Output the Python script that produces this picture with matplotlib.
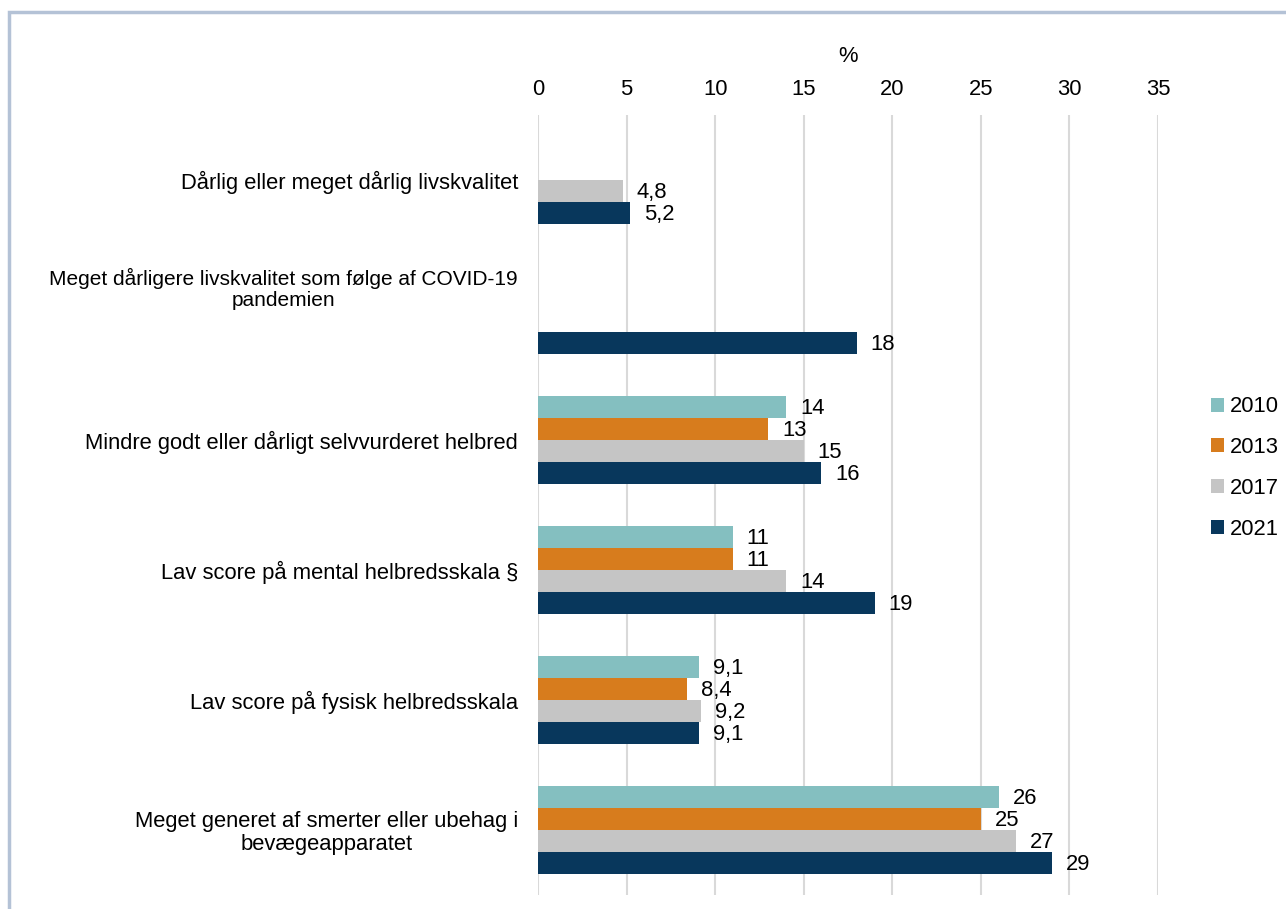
import numpy as np
import matplotlib
matplotlib.use("Agg")
import matplotlib.pyplot as plt
from matplotlib.patches import Rectangle
from matplotlib.transforms import ScaledTranslation

plt.rcParams['font.family'] = ['Liberation Sans', 'DejaVu Sans']
FS = 15.8

categories = [
    "Dårlig eller meget dårlig livskvalitet",
    "Meget dårligere livskvalitet som følge af COVID-19\npandemien",
    "Mindre godt eller dårligt selvvurderet helbred",
    "Lav score på mental helbredsskala §",
    "Lav score på fysisk helbredsskala",
    "Meget generet af smerter eller ubehag i\nbevægeapparatet",
]
years = ["2010", "2013", "2017", "2021"]
v2010 = [np.nan, np.nan, 14, 11, 9.1, 26]
v2013 = [np.nan, np.nan, 13, 11, 8.4, 25]
v2017 = [4.8, np.nan, 15, 14, 9.2, 27]
v2021 = [5.2, 18, 16, 19, 9.1, 29]
series = [v2010, v2013, v2017, v2021]
colors = ["#84BFC0", "#D77C1D", "#C5C5C5", "#08375C"]
xticks = [0, 5, 10, 15, 20, 25, 30, 35]

fig = plt.figure(figsize=(12.86, 9.09), dpi=100)
ax = fig.add_axes([538/1286, 1-895/909, (1158-538)/1286, (895-115)/909])

n = len(categories)
bh = 0.169
ypos = np.arange(n)
for i, (vals, col, yr) in enumerate(zip(series, colors, years)):
    offs = (i - 1.5) * bh
    y = ypos + offs
    vals = np.array(vals, dtype=float)
    ax.barh(y, np.nan_to_num(vals), height=bh, color=col, label=yr, zorder=3)
    for yy, v in zip(y, vals):
        if np.isnan(v):
            continue
        s = (f"{v:.1f}".replace(".", ",") if v != int(v) else f"{int(v)}")
        ax.annotate(s, (v, yy), xytext=(10, -1), textcoords="offset points",
                    va="center", ha="left", fontsize=FS, color="#000000")

ax.set_ylim(n - 0.5, -0.5)
ax.set_xlim(0, 35)
ax.set_xticks(xticks)
ax.set_xticklabels([str(t) for t in xticks], fontsize=FS)
ax.xaxis.tick_top()
ax.tick_params(axis='x', length=0, pad=11)
ax.set_yticks(ypos)
ax.set_yticklabels(categories, fontsize=FS, ha='center', multialignment='center',
                   linespacing=1.12)
ax.tick_params(axis='y', length=0, pad=0)
ax.get_yticklabels()[1].set_fontsize(15.0)
fig.canvas.draw()
r = fig.canvas.get_renderer()
for k, lab in enumerate(ax.get_yticklabels()):
    bb = lab.get_window_extent(r)
    w = bb.width
    dx = -(20 + w/2) / 100
    dy = 24/100 if k == 1 else 0
    lab.set_transform(lab.get_transform() + ScaledTranslation(dx, dy, fig.dpi_scale_trans))

for sp in ax.spines.values():
    sp.set_visible(False)
ax.grid(axis='x', color="#D9D9D9", linewidth=1.5, zorder=0)
ax.set_axisbelow(True)

fig.text(848/1286, 1-56/909, "%", ha='center', va='center', fontsize=FS)

leg = ax.legend(loc='center left', bbox_to_anchor=(1200/1286, 1-468/909),
                bbox_transform=fig.transFigure, frameon=False, fontsize=FS,
                handlelength=0.6, handleheight=0.6, handletextpad=0.25,
                labelspacing=0.9, borderpad=0)

fig.patches.append(Rectangle((9/1286, -0.1), 1.2, 1-12/909+0.1, transform=fig.transFigure,
                             fill=False, edgecolor="#B4C2D6", linewidth=2.5))

fig.savefig("out.png", dpi=100)
